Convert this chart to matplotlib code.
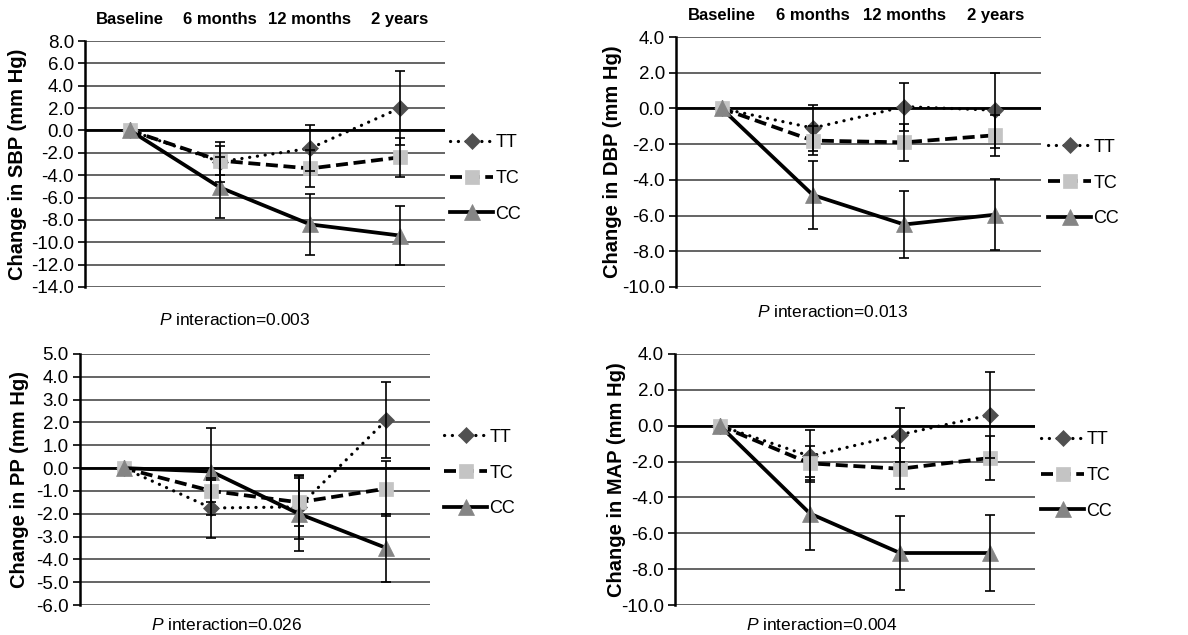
import numpy as np
import matplotlib
matplotlib.use("Agg")
import matplotlib.pyplot as plt

plt.rcParams['font.family'] = ['Liberation Sans', 'DejaVu Sans']
plt.rcParams['mathtext.fontset'] = 'custom'
plt.rcParams['mathtext.rm'] = 'Liberation Sans'
plt.rcParams['mathtext.it'] = 'Liberation Sans:italic'

# ---------------- data ----------------
timepoints = ["Baseline", "6 months", "12 months", "2 years"]
groups = ["TT", "TC", "CC"]
nan = np.nan

sbp_tt = [0.0, -2.8, -1.6, 2.0]
sbp_tt_err = [nan, 1.8, 2.05, 3.3]
sbp_tc = [0.0, -2.7, -3.4, -2.4]
sbp_tc_err = [nan, 1.3, 1.65, 1.75]
sbp_cc = [0.0, -5.1, -8.4, -9.4]
sbp_cc_err = [nan, 2.7, 2.7, 2.6]

dbp_tt = [0.0, -1.1, 0.1, -0.1]
dbp_tt_err = [nan, 1.3, 1.35, 2.1]
dbp_tc = [0.0, -1.8, -1.9, -1.5]
dbp_tc_err = [nan, 0.8, 1.05, 1.15]
dbp_cc = [0.0, -4.85, -6.5, -5.95]
dbp_cc_err = [nan, 1.9, 1.9, 2.0]

pp_tt = [0.0, -1.75, -1.7, 2.1]
pp_tt_err = [nan, 1.3, 1.4, 1.66]
pp_tc = [0.0, -1.0, -1.5, -0.9]
pp_tc_err = [nan, 0.5, 1.05, 1.2]
pp_cc = [0.0, -0.15, -2.0, -3.5]
pp_cc_err = [nan, 1.9, 1.65, 1.5]

map_tt = [0.0, -1.7, -0.5, 0.6]
map_tt_err = [nan, 1.45, 1.5, 2.4]
map_tc = [0.0, -2.1, -2.4, -1.8]
map_tc_err = [nan, 0.95, 1.15, 1.25]
map_cc = [0.0, -4.9, -7.1, -7.1]
map_cc_err = [nan, 2.05, 2.07, 2.1]

ylabels = ["Change in SBP (mm Hg)", "Change in DBP (mm Hg)",
           "Change in PP (mm Hg)", "Change in MAP (mm Hg)"]
p_texts = ["0.003", "0.013", "0.026", "0.004"]
y_ranges = [(-14, 8, 2), (-10, 4, 2), (-6, 5, 1), (-10, 4, 2)]

# ---------------- style ----------------
styles = {
    "TT": dict(color="black", lw=2.3, ls=(0, (0.05, 2.4)), dash_capstyle='round',
               marker="D", ms=8.5, mfc="#505050", mec="#505050"),
    "TC": dict(color="black", lw=2.7, ls=(0, (3.2, 1.5)),
               marker="s", ms=10.5, mfc="#c4c4c4", mec="#c4c4c4"),
    "CC": dict(color="black", lw=2.7, ls="-",
               marker="^", ms=11, mfc="#858585", mec="#858585"),
}

W, H = 1188, 635
fig = plt.figure(figsize=(W / 100, H / 100), dpi=100)

# axes boxes in pixels: left, top, right, bottom
boxes = [(85, 41, 445, 287), (676, 37, 1041, 287),
         (80, 354, 430, 605), (675, 354, 1035, 605)]
ylabel_x = [18, 613, 20, 616]
p_pos = [(235, 320), (833, 312), (227, 625), (822, 625)]
legend_pos = [(450, 178.5), (1048, 183), (444, 473), (1041, 475.5)]

panels = [
    (sbp_tt, sbp_tt_err, sbp_tc, sbp_tc_err, sbp_cc, sbp_cc_err),
    (dbp_tt, dbp_tt_err, dbp_tc, dbp_tc_err, dbp_cc, dbp_cc_err),
    (pp_tt, pp_tt_err, pp_tc, pp_tc_err, pp_cc, pp_cc_err),
    (map_tt, map_tt_err, map_tc, map_tc_err, map_cc, map_cc_err),
]

x = np.arange(len(timepoints))

for i, data in enumerate(panels):
    l, t, r, b = boxes[i]
    ax = fig.add_axes([l / W, 1 - b / H, (r - l) / W, (b - t) / H])
    lo, hi, step = y_ranges[i]
    ax.set_ylim(lo, hi)
    ax.set_xlim(-0.5, len(timepoints) - 0.5)
    ticks = np.arange(lo, hi + step / 2, step)
    ax.set_yticks(ticks)
    ax.set_yticklabels([f"{v:.1f}" for v in ticks], fontsize=13.5)
    ax.tick_params(axis='y', length=5, width=1.2, pad=3, direction='out')
    for v in ticks:
        ax.axhline(v, color="#3a3a3a", lw=1.1, zorder=0.5)
    ax.axhline(0, color="black", lw=2.0, zorder=0.6)
    for s in ["top", "right", "bottom"]:
        ax.spines[s].set_visible(False)
    ax.spines["left"].set_linewidth(1.8)
    ax.spines["left"].set_color("black")

    if i < 2:
        ax.xaxis.tick_top()
        ax.set_xticks(x)
        ax.set_xticklabels(timepoints, fontsize=12, fontweight='bold')
        ax.tick_params(axis='x', length=0, pad=10)
    else:
        ax.set_xticks([])

    handles = []
    for g, (vals, errs) in zip(groups, [(data[0], data[1]), (data[2], data[3]), (data[4], data[5])]):
        st = styles[g]
        ln, = ax.plot(x, vals, color=st["color"], lw=st["lw"], ls=st["ls"],
                      marker=st["marker"], ms=st["ms"], mfc=st["mfc"], mec=st["mec"],
                      mew=0.5, zorder=3, label=g,
                      **({"dash_capstyle": st["dash_capstyle"]} if "dash_capstyle" in st else {}))
        handles.append(ln)
        ax.errorbar(x, vals, yerr=errs, fmt="none", ecolor="black",
                    elinewidth=1.2, capsize=3.5, capthick=1.2, zorder=4)

    lx, ly = legend_pos[i]
    fig.legend(handles=handles, labels=groups, loc="center left",
               bbox_to_anchor=(lx / W, 1 - ly / H), frameon=False,
               fontsize=13, handlelength=2.4, handletextpad=0.1,
               labelspacing=1.04, borderpad=0, borderaxespad=0)

    fig.text(ylabel_x[i] / W, 1 - ((t + b) / 2) / H, ylabels[i], rotation=90,
             ha="center", va="center", fontsize=14.5, fontweight="bold")
    px, py = p_pos[i]
    fig.text(px / W, 1 - py / H, r"$\mathit{P}$ interaction=" + p_texts[i],
             ha="center", va="center", fontsize=12.5)

fig.savefig("out.png", dpi=100)
